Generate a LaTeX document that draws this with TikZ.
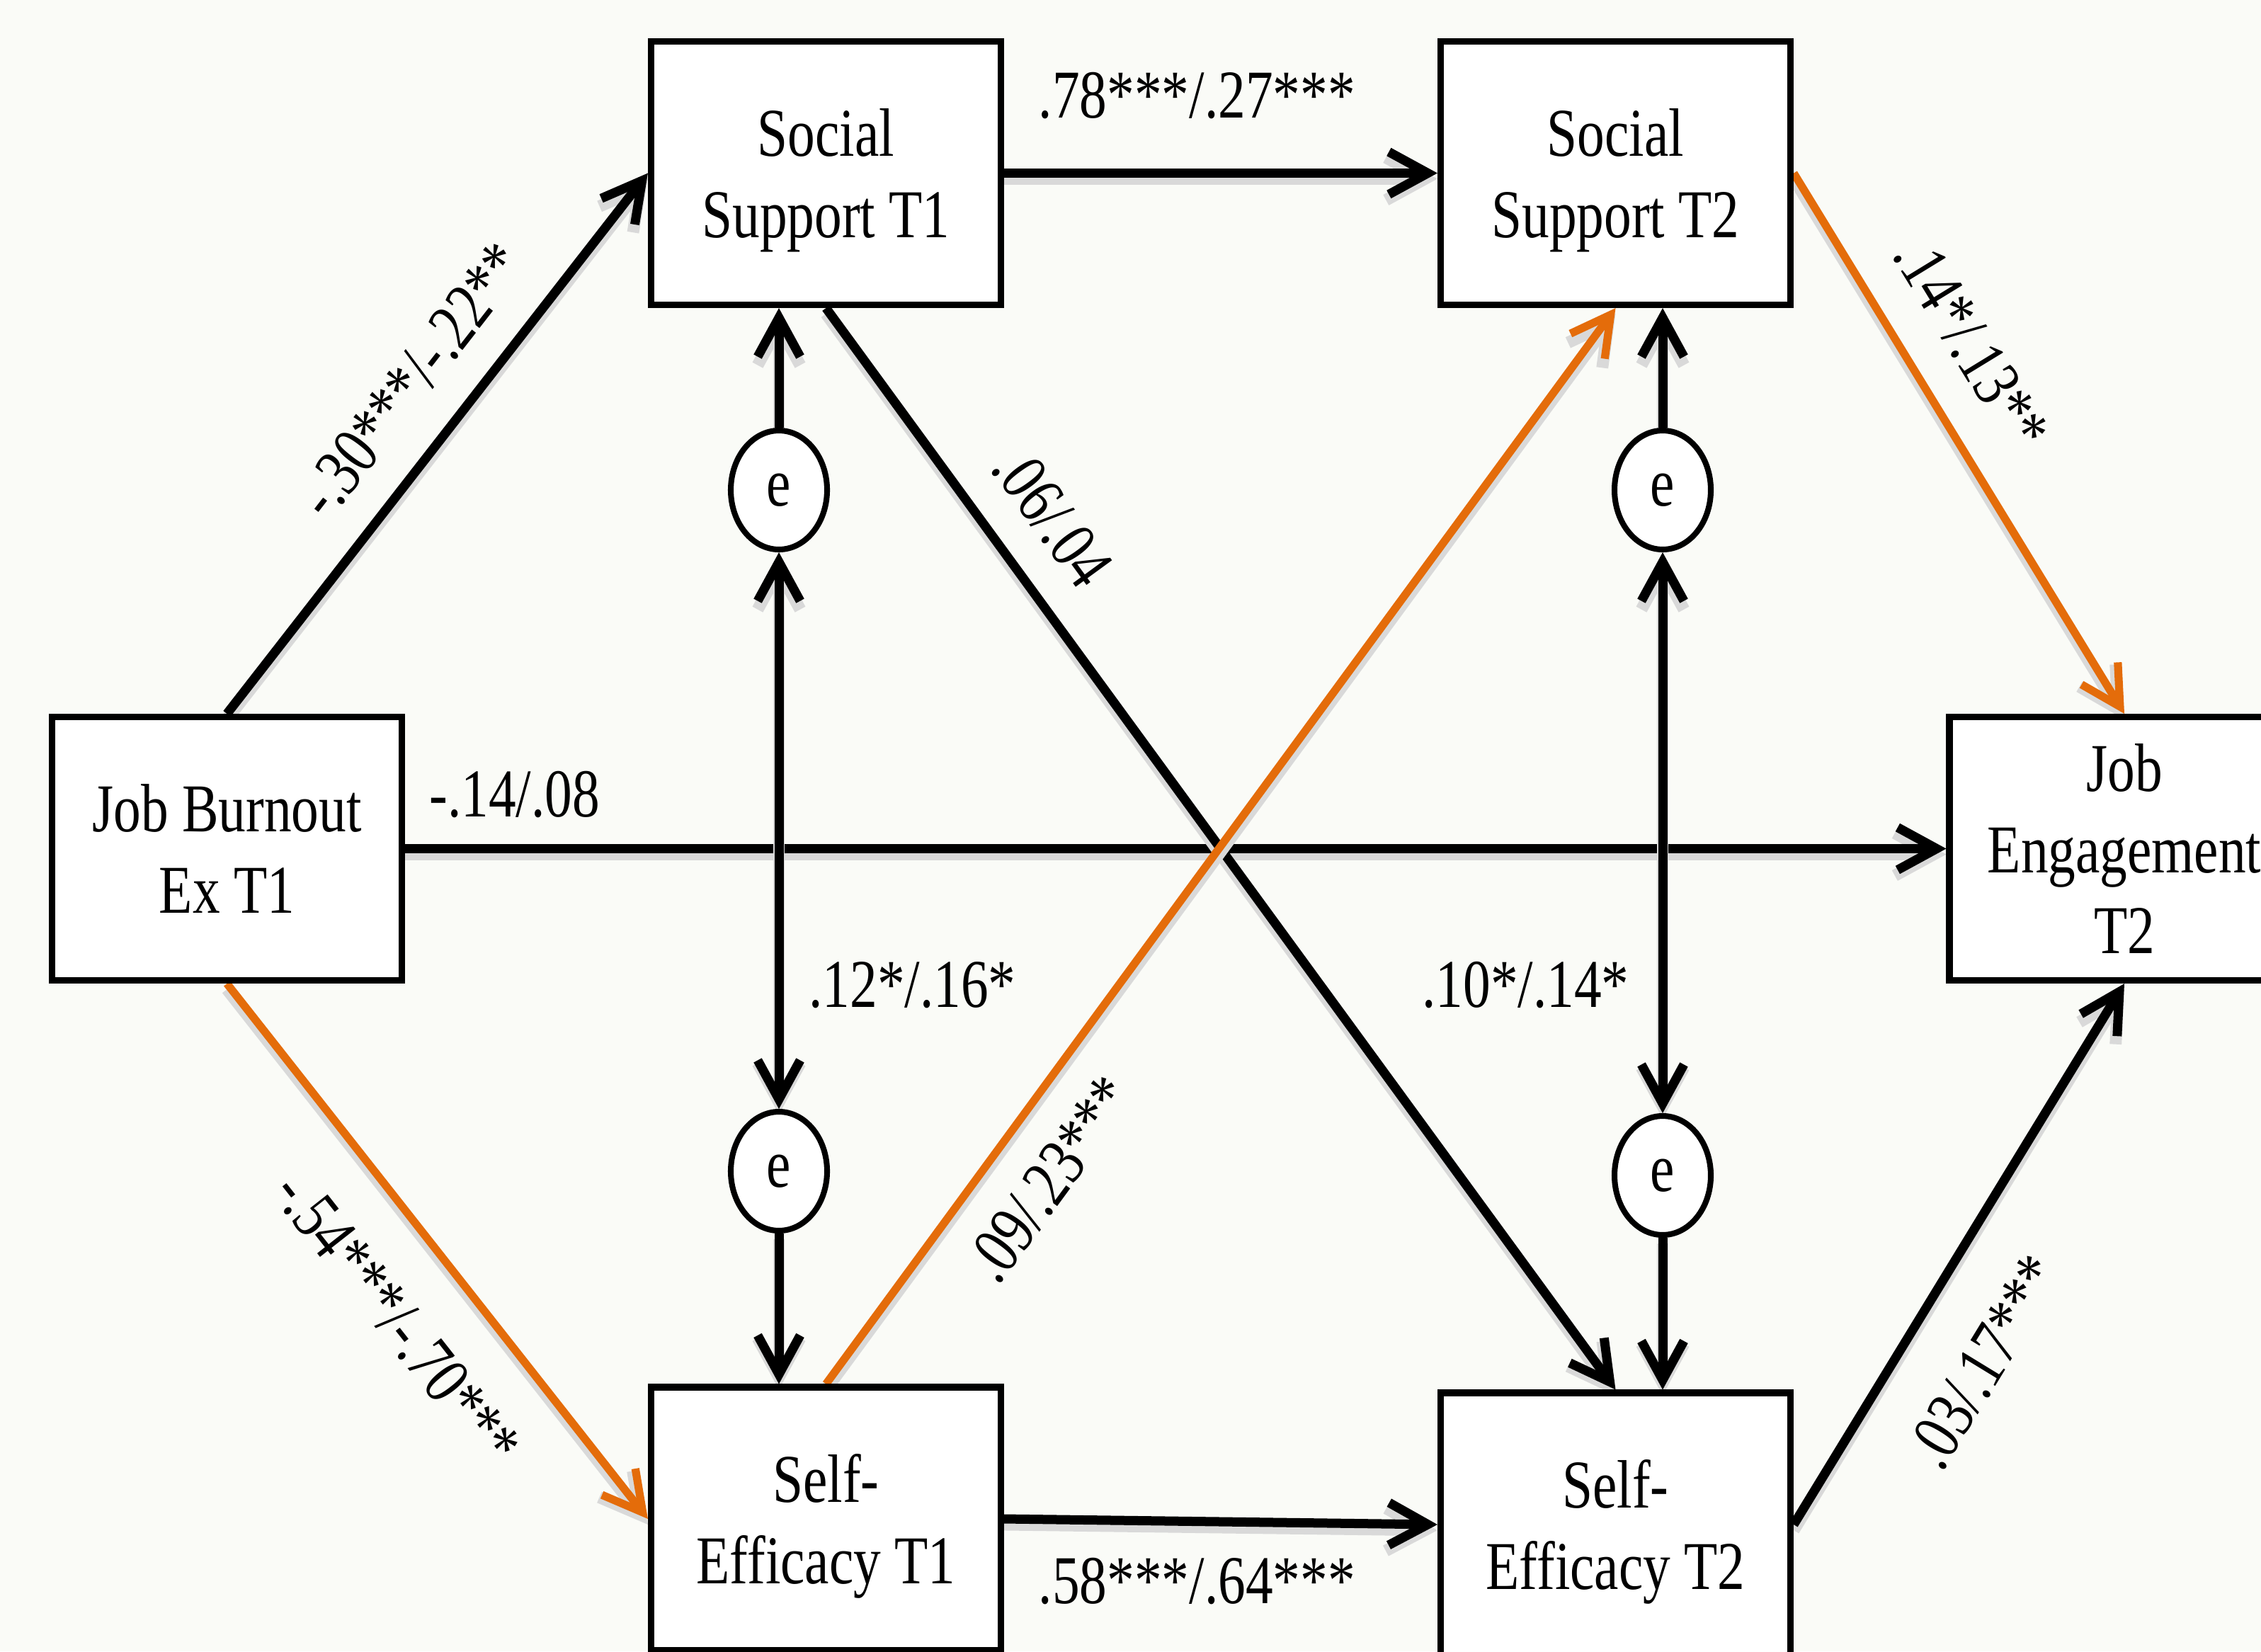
\documentclass[tikz,border=0pt]{standalone}
\usepackage{fontspec}
\setmainfont{Liberation Serif}[FakeStretch=0.8]
\usetikzlibrary{arrows.meta,shapes.geometric,calc}
\definecolor{pageback}{RGB}{250,251,247}
\definecolor{pathorange}{RGB}{228,108,10}
% a line of text whose descenders do not count for centring
\newcommand\flatline[1]{\raisebox{0pt}[\height][0pt]{#1}}
\pgfdeclarelayer{page}
\pgfdeclarelayer{paths}
\pgfsetlayers{page,paths,main}
\begin{document}
\begin{tikzpicture}[
  font=\fontsize{27.5}{32.5}\selectfont,
  box/.style={draw, line width=2.6pt, fill=white, minimum width=4.94cm,
    minimum height=3.72cm, align=center, inner sep=0pt},
  err/.style={ellipse, draw, line width=2.3pt, fill=white, minimum width=1.36cm,
    minimum height=1.68cm, inner sep=0pt},
  soft/.style={preaction={draw=black!15, line width=4.8pt,
    transform canvas={yshift=-0.08cm}}},
  link/.style={soft, line width=3.7pt, -{Straight Barb[length=0.55cm,width=0.6cm]}},
  twoway/.style={soft, line width=3.7pt,
    {Straight Barb[length=0.55cm,width=0.6cm]}-{Straight Barb[length=0.55cm,width=0.6cm]}},
  hot/.style={soft, draw=pathorange, line width=3.2pt,
    -{Straight Barb[length=0.55cm,width=0.6cm]}},
  lbl/.style={inner sep=0pt, text=black},
]
% page
\begin{pgfonlayer}{page}
\fill[pageback] (0,0) rectangle (31.93,-23.32);
\end{pgfonlayer}
\clip (0,0) rectangle (31.93,-23.32);
\useasboundingbox (0,0) rectangle (31.93,-23.32);

% variables
\node[box] (JB)  at (3.205,-11.985) {Job Burnout\\Ex T1};
\node[box] (SS1) at (11.665,-2.445) {Social\\\flatline{Support T1}};
\node[box] (SS2) at (22.815,-2.445) {Social\\\flatline{Support T2}};
\node[box] (JE)  at (30.0,-11.985) {Job\\Engagement\\T2};
\node[box] (SE1) at (11.665,-21.45) {Self-\\\flatline{Efficacy T1}};
\node[box] (SE2) at (22.815,-21.53) {Self-\\\flatline{Efficacy T2}};

% residuals
\node[err] (e1) at (11.0,-6.92) {e};
\node[err] (e2) at (23.48,-6.92) {e};
\node[err] (e3) at (11.0,-16.54) {e};
\node[err] (e4) at (23.48,-16.60) {e};

\begin{pgfonlayer}{paths}
% black paths
\draw[link] (JB.north) -- node[lbl, sloped, pos=0.549, above=0.45cm] {-.30***/-.22**} (SS1.west);
\draw[link] (SS1.east) -- node[lbl, pos=0.445, above=0.7cm] {.78***/.27***} (SS2.west);
\draw[link] (JB.east) -- node[lbl, at start, anchor=south west, xshift=0.28cm, yshift=0.37cm] {-.14/.08} (JE.west);
\draw[link] (SE1.east) -- node[lbl, pos=0.445, below=0.45cm] {.58***/.64***} (SE2.west);
\draw[link] (SE2.east) -- node[lbl, sloped, pos=0.376, below=0.7cm] {.03/.17***} (JE.south);
\draw[link] (SS1.south) -- node[lbl, sloped, pos=0.226, above=0.45cm] {.06/.04} (SE2.north);

% orange paths
\draw[hot] (SS2.east) -- node[lbl, sloped, pos=0.376, above=0.5cm] {.14*/.13**} (JE.north);
\draw[hot] (JB.south) -- node[lbl, sloped, pos=0.541, below=0.65cm] {-.54***/-.70***} (SE1.west);
\draw[hot] (SE1.north) -- node[lbl, sloped, pos=0.223, below=0.45cm] {.09/.23***} (SS2.south);

% residual links
\draw[link] (e1.north) -- (e1.north |- SS1.south);
\draw[twoway] (e1.south) -- node[lbl, pos=0.777, right=0.36cm] {.12*/.16*} (e3.north);
\draw[link] (e3.south) -- (e3.south |- SE1.north);
\draw[link] (e2.north) -- (e2.north |- SS2.south);
\draw[twoway] (e2.south) -- node[lbl, pos=0.771, left=0.41cm] {.10*/.14*} (e4.north);
\draw[link] (e4.south) -- (e4.south |- SE2.north);
\end{pgfonlayer}
\end{tikzpicture}
\end{document}
